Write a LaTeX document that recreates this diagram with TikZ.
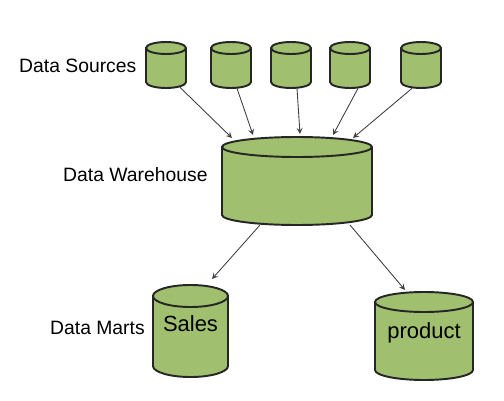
\documentclass[tikz,border=0pt]{standalone}
\usepackage{fontspec}
\setmainfont{Liberation Sans}
\usetikzlibrary{calc}
\definecolor{dbgreen}{RGB}{160,191,111}

% name, x, y, x radius, half body, y radius, text
\newcommand{\dbcyl}[7]{%
\path[fill=dbgreen,draw=black!85,line width=1.1pt] (#2-#4,#3+#5) -- (#2-#4,#3-#5) arc[start angle=180,end angle=360,x radius=#4,y radius=#6] -- (#2+#4,#3+#5) arc[start angle=0,end angle=180,x radius=#4,y radius=#6] -- cycle;
\draw[draw=black!85,line width=1.1pt] (#2-#4,#3+#5) arc[start angle=180,end angle=360,x radius=#4,y radius=#6];
\node[dbtext,minimum width=2*#4 cm,minimum height=2*#5 cm+2*#6 cm] (#1) at (#2,#3) {#7};
}

\begin{document}
\begin{tikzpicture}[scale=1.0,>=stealth,
  dbtext/.style={inner sep=0pt,font=\fontsize{12.5}{14}\selectfont},
  lbl/.style={anchor=west,font=\fontsize{11}{13}\selectfont},
  link/.style={->,draw=black!75,line width=0.5pt}]
\useasboundingbox (0,0) rectangle (10.08,-8);
% sources
\dbcyl{s1}{3.32}{-1.30}{0.4}{0.34}{0.12}{}
\dbcyl{s2}{4.62}{-1.30}{0.4}{0.34}{0.12}{}
\dbcyl{s3}{5.82}{-1.30}{0.4}{0.34}{0.12}{}
\dbcyl{s4}{7.00}{-1.30}{0.4}{0.34}{0.12}{}
\dbcyl{s5}{8.42}{-1.30}{0.4}{0.34}{0.12}{}
% warehouse and marts
\dbcyl{dw}{5.94}{-3.62}{1.5}{0.68}{0.2}{}
\dbcyl{sales}{3.81}{-6.62}{0.75}{0.70}{0.22}{\raisebox{0.3cm}{Sales}}
\dbcyl{prod}{8.48}{-6.72}{0.98}{0.68}{0.2}{\raisebox{0.22cm}{product}}
% labels
\node[lbl] (lsrc) at (0.26,-1.32) {Data Sources};
\node[lbl] (ldw) at (1.14,-3.50) {Data Warehouse};
\node[lbl] (lmart) at (0.88,-6.56) {Data Marts};
% links
\draw[link] ($(s1.south)+(0.28,0.02)$) -- ($(dw.center)+(-1.3,0.86)$);
\draw[link] ($(s2.south)+(0.12,0)$) -- ($(dw.center)+(-0.88,0.92)$);
\draw[link] ($(s3.south)+(0.12,0)$) -- ($(dw.center)+(0.06,0.94)$);
\draw[link] ($(s4.south)+(0.16,0)$) -- ($(dw.center)+(0.72,0.92)$);
\draw[link] ($(s5.south)+(-0.18,0)$) -- ($(dw.center)+(1.12,0.86)$);
\draw[link] ($(dw.center)+(-0.74,-0.88)$) -- ($(sales.center)+(0.43,1.04)$);
\draw[link] ($(dw.center)+(1.06,-0.88)$) -- ($(prod.center)+(-0.38,0.92)$);
\end{tikzpicture}
\end{document}
